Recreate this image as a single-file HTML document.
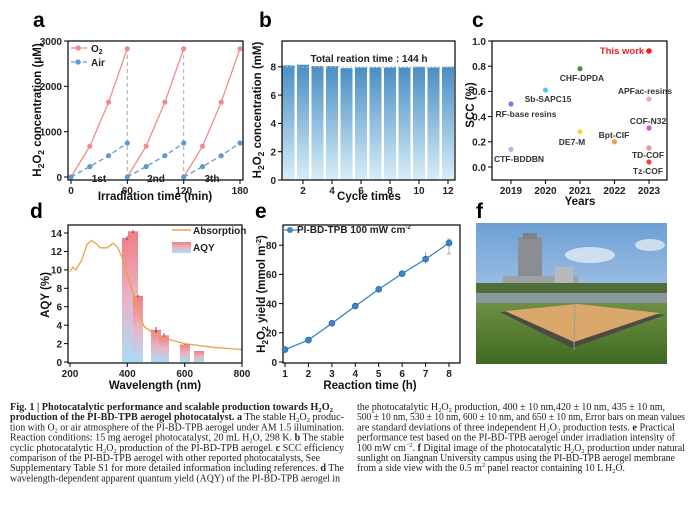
<!DOCTYPE html>
<html><head><meta charset="utf-8"><style>
html,body{margin:0;padding:0;background:#fff}
svg{display:block}
.t{font-family:"Liberation Sans",sans-serif;font-weight:bold;font-size:10px;fill:#222}
.ax{font-family:"Liberation Sans",sans-serif;font-weight:bold;font-size:11.5px;fill:#111}
.L{font-family:"Liberation Sans",sans-serif;font-weight:bold;font-size:21px;fill:#000}
.c{font-family:"Liberation Serif",serif;font-size:10px;fill:#222}
.cl{font-family:"Liberation Sans",sans-serif;font-weight:bold;font-size:8.5px;fill:#333}
</style></head><body>
<svg width="692" height="510" viewBox="0 0 692 510" xmlns="http://www.w3.org/2000/svg">
<defs>
<linearGradient id="gb" x1="0" y1="0" x2="0" y2="1"><stop offset="0" stop-color="#4a8ec4"/><stop offset="1" stop-color="#d8eef9"/></linearGradient>
<linearGradient id="gd" x1="0" y1="0" x2="0" y2="1"><stop offset="0" stop-color="#f07e84"/><stop offset="0.5" stop-color="#e9b4c4"/><stop offset="1" stop-color="#a9dcf6"/></linearGradient>
<linearGradient id="sky" x1="0" y1="0" x2="0" y2="1"><stop offset="0" stop-color="#6d9fd6"/><stop offset="1" stop-color="#d4e3ee"/></linearGradient>
<linearGradient id="grass" x1="0" y1="0" x2="0" y2="1"><stop offset="0" stop-color="#6e8f44"/><stop offset="1" stop-color="#3f6a22"/></linearGradient>
</defs>
<text class="L" x="33" y="27">a</text><text class="L" x="259" y="27">b</text><text class="L" x="472" y="27">c</text>
<text class="L" x="30" y="218">d</text><text class="L" x="255" y="218">e</text><text class="L" x="476" y="218">f</text>

<!-- Panel a -->
<rect x="68" y="41" width="175" height="139" fill="none" stroke="#000" stroke-width="1.2"/>
<g stroke="#000" stroke-width="1">
<line x1="68" y1="177" x2="64" y2="177"/><line x1="68" y1="131.7" x2="64" y2="131.7"/><line x1="68" y1="86.3" x2="64" y2="86.3"/><line x1="68" y1="41" x2="64" y2="41"/>
<line x1="71" y1="180" x2="71" y2="184"/><line x1="127.3" y1="180" x2="127.3" y2="184"/><line x1="183.7" y1="180" x2="183.7" y2="184"/><line x1="240" y1="180" x2="240" y2="184"/>
</g>
<g class="t" text-anchor="end"><text x="62" y="181">0</text><text x="62" y="135.5">1000</text><text x="62" y="90">2000</text><text x="62" y="45">3000</text></g>
<g class="t" text-anchor="middle"><text x="71" y="194">0</text><text x="127.3" y="194">60</text><text x="183.7" y="194">120</text><text x="240" y="194">180</text></g>
<g stroke="#aaa" stroke-dasharray="4,3"><line x1="127.3" y1="48" x2="127.3" y2="177"/><line x1="183.7" y1="48" x2="183.7" y2="177"/></g>
<g fill="none" stroke="#f08c8c" stroke-width="1.3">
<path d="M71,177 L89.8,146.2 L108.6,102.2 L127.3,48.7"/><path d="M127.3,177 L146.1,146.2 L164.9,102.2 L183.7,48.7"/><path d="M183.7,177 L202.5,146.2 L221.2,102.2 L240,48.7"/>
</g>
<g fill="none" stroke="#5b9bd5" stroke-width="1.3" stroke-dasharray="5,3">
<path d="M71,177 L89.8,166.6 L108.6,155.7 L127.3,143"/><path d="M127.3,177 L146.1,166.6 L164.9,155.7 L183.7,143"/><path d="M183.7,177 L202.5,166.6 L221.2,155.7 L240,143"/>
</g>
<g fill="#f08c8c"><circle cx="89.8" cy="146.2" r="2.6"/><circle cx="108.6" cy="102.2" r="2.6"/><circle cx="127.3" cy="48.7" r="2.6"/><circle cx="146.1" cy="146.2" r="2.6"/><circle cx="164.9" cy="102.2" r="2.6"/><circle cx="183.7" cy="48.7" r="2.6"/><circle cx="202.5" cy="146.2" r="2.6"/><circle cx="221.2" cy="102.2" r="2.6"/><circle cx="240" cy="48.7" r="2.6"/></g>
<g fill="#5b9bd5"><circle cx="71" cy="177" r="2.6"/><circle cx="89.8" cy="166.6" r="2.6"/><circle cx="108.6" cy="155.7" r="2.6"/><circle cx="127.3" cy="143" r="2.6"/><circle cx="127.3" cy="177" r="2.6"/><circle cx="146.1" cy="166.6" r="2.6"/><circle cx="164.9" cy="155.7" r="2.6"/><circle cx="183.7" cy="143" r="2.6"/><circle cx="183.7" cy="177" r="2.6"/><circle cx="202.5" cy="166.6" r="2.6"/><circle cx="221.2" cy="155.7" r="2.6"/><circle cx="240" cy="143" r="2.6"/></g>
<line x1="71" y1="48" x2="87" y2="48" stroke="#f08c8c" stroke-width="1.3"/><circle cx="78" cy="48" r="2.6" fill="#f08c8c"/>
<line x1="71" y1="62" x2="87" y2="62" stroke="#5b9bd5" stroke-width="1.3" stroke-dasharray="4,2"/><circle cx="78" cy="62" r="2.6" fill="#5b9bd5"/>
<text class="t" x="91" y="52">O<tspan font-size="7" dy="2">2</tspan></text><text class="t" x="91" y="66">Air</text>
<g class="t" font-weight="normal" text-anchor="middle"><text x="99" y="182">1st</text><text x="156" y="182">2nd</text><text x="212" y="182">3th</text></g>
<text class="ax" transform="translate(41,110) rotate(-90)" text-anchor="middle">H<tspan font-size="8.5" dy="3">2</tspan><tspan dy="-3">O</tspan><tspan font-size="8.5" dy="3">2</tspan><tspan dy="-3"> concentration (μM)</tspan></text>
<text class="ax" x="155" y="200" text-anchor="middle">Irradiation time (min)</text>

<!-- Panel b -->
<g fill="url(#gb)">
<rect x="282.5" y="65.4" width="12" height="114.6"/><rect x="297" y="64.7" width="12" height="115.3"/><rect x="311.5" y="66.1" width="12" height="113.9"/><rect x="326" y="66.1" width="12" height="113.9"/><rect x="340.5" y="68.2" width="12" height="111.8"/><rect x="355" y="67.5" width="12" height="112.5"/><rect x="369.5" y="67.5" width="12" height="112.5"/><rect x="384" y="67.5" width="12" height="112.5"/><rect x="398.5" y="67.5" width="12" height="112.5"/><rect x="413" y="66.8" width="12" height="113.2"/><rect x="427.5" y="67.5" width="12" height="112.5"/><rect x="442" y="66.8" width="12" height="113.2"/>
</g>
<line x1="282" y1="67" x2="455" y2="67" stroke="#bbb" stroke-dasharray="2,2"/>
<rect x="282" y="41" width="173" height="139" fill="none" stroke="#000" stroke-width="1.2"/>
<g stroke="#000"><line x1="282" y1="180" x2="278" y2="180"/><line x1="282" y1="151.7" x2="278" y2="151.7"/><line x1="282" y1="123.4" x2="278" y2="123.4"/><line x1="282" y1="95.1" x2="278" y2="95.1"/><line x1="282" y1="66.8" x2="278" y2="66.8"/>
<line x1="303" y1="180" x2="303" y2="184"/><line x1="332" y1="180" x2="332" y2="184"/><line x1="361" y1="180" x2="361" y2="184"/><line x1="390" y1="180" x2="390" y2="184"/><line x1="419" y1="180" x2="419" y2="184"/><line x1="448" y1="180" x2="448" y2="184"/></g>
<g class="t" text-anchor="end"><text x="276" y="184">0</text><text x="276" y="155.5">2</text><text x="276" y="127">4</text><text x="276" y="99">6</text><text x="276" y="70.5">8</text></g>
<g class="t" text-anchor="middle"><text x="303" y="194">2</text><text x="332" y="194">4</text><text x="361" y="194">6</text><text x="390" y="194">8</text><text x="419" y="194">10</text><text x="448" y="194">12</text></g>
<text class="t" x="369" y="62" text-anchor="middle" font-size="9.5">Total reation time : 144 h</text>
<text class="ax" transform="translate(261,110) rotate(-90)" text-anchor="middle">H<tspan font-size="8.5" dy="3">2</tspan><tspan dy="-3">O</tspan><tspan font-size="8.5" dy="3">2</tspan><tspan dy="-3"> concentration (mM)</tspan></text>
<text class="ax" x="369" y="200" text-anchor="middle">Cycle times</text>

<!-- Panel c -->
<rect x="492" y="41" width="175" height="139" fill="none" stroke="#000" stroke-width="1.2"/>
<g stroke="#000"><line x1="492" y1="167" x2="488" y2="167"/><line x1="492" y1="141.8" x2="488" y2="141.8"/><line x1="492" y1="116.6" x2="488" y2="116.6"/><line x1="492" y1="91.4" x2="488" y2="91.4"/><line x1="492" y1="66.2" x2="488" y2="66.2"/><line x1="492" y1="41" x2="488" y2="41"/>
<line x1="511" y1="180" x2="511" y2="184"/><line x1="545.5" y1="180" x2="545.5" y2="184"/><line x1="580" y1="180" x2="580" y2="184"/><line x1="614.5" y1="180" x2="614.5" y2="184"/><line x1="649" y1="180" x2="649" y2="184"/></g>
<g class="t" text-anchor="end"><text x="486" y="171">0.0</text><text x="486" y="145.5">0.2</text><text x="486" y="120.5">0.4</text><text x="486" y="95">0.6</text><text x="486" y="70">0.8</text><text x="486" y="45">1.0</text></g>
<g class="t" text-anchor="middle"><text x="511" y="194">2019</text><text x="545.5" y="194">2020</text><text x="580" y="194">2021</text><text x="614.5" y="194">2022</text><text x="649" y="194">2023</text></g>
<circle cx="649" cy="51" r="2.8" fill="#f02020"/><circle cx="580" cy="68.7" r="2.6" fill="#3a9a30"/><circle cx="545.5" cy="90.1" r="2.6" fill="#5cc8ee"/><circle cx="511" cy="104" r="2.6" fill="#7c7ce6"/><circle cx="649" cy="99" r="2.6" fill="#f2a0d0"/><circle cx="649" cy="128" r="2.6" fill="#e850c8"/><circle cx="580" cy="131.7" r="2.6" fill="#f0d840"/><circle cx="614.5" cy="141.8" r="2.6" fill="#f0a040"/><circle cx="511" cy="149.4" r="2.6" fill="#b0b8ee"/><circle cx="649" cy="148" r="2.6" fill="#f09090"/><circle cx="649" cy="162" r="2.6" fill="#f04050"/>
<g class="cl" text-anchor="middle">
<text x="622" y="54" font-size="9.5" style="fill:#f02020">This work</text>
<text x="582" y="81">CHF-DPDA</text><text x="548" y="102">Sb-SAPC15</text><text x="526" y="117">RF-base resins</text>
<text x="645" y="94">APFac-resins</text><text x="648" y="124">COF-N32</text><text x="614" y="138">Bpt-CIF</text><text x="572" y="145">DE7-M</text>
<text x="648" y="158">TD-COF</text><text x="648" y="174">Tz-COF</text><text x="519" y="162">CTF-BDDBN</text></g>
<text class="ax" transform="translate(474,105) rotate(-90)" text-anchor="middle">SCC (%)</text>
<text class="ax" x="580" y="205" text-anchor="middle">Years</text>

<!-- Panel d -->
<g fill="url(#gd)">
<rect x="122" y="237.8" width="10" height="124.2"/><rect x="128" y="231.3" width="10" height="130.7"/><rect x="133" y="295.8" width="10" height="66.2"/><rect x="151" y="329.8" width="10" height="32.2"/><rect x="159" y="335.3" width="10" height="26.7"/><rect x="180" y="344.5" width="10" height="17.5"/><rect x="194" y="351" width="10" height="11"/>
</g>
<g stroke="#333" stroke-width="0.8"><line x1="127" y1="236" x2="127" y2="240"/><line x1="133" y1="230" x2="133" y2="233"/><line x1="138" y1="295" x2="138" y2="297"/><line x1="156" y1="327" x2="156" y2="333"/><line x1="164" y1="333" x2="164" y2="338"/><line x1="185" y1="344" x2="185" y2="345"/></g>
<path fill="none" stroke="#e8a24a" stroke-width="1.3" d="M70,271.7 L72.9,267.1 L75.7,269.9 L81.5,260.7 L87.2,244.1 L91.5,240.4 L95.8,243.2 L100.1,247.8 L107.3,247.8 L113,243.2 L117.3,247 L121.6,256.1 L127.3,274.5 L133,292.9 L138.8,314.1 L144.5,327 L156,334.4 L170.3,339.9 L184.7,343.6 L213.3,347.3 L242,349.6"/>
<rect x="68" y="225" width="174" height="138" fill="none" stroke="#000" stroke-width="1.2"/>
<g stroke="#000"><line x1="68" y1="362" x2="64" y2="362"/><line x1="68" y1="343.6" x2="64" y2="343.6"/><line x1="68" y1="325.2" x2="64" y2="325.2"/><line x1="68" y1="306.7" x2="64" y2="306.7"/><line x1="68" y1="288.3" x2="64" y2="288.3"/><line x1="68" y1="269.9" x2="64" y2="269.9"/><line x1="68" y1="251.5" x2="64" y2="251.5"/><line x1="68" y1="233" x2="64" y2="233"/>
<line x1="70" y1="363" x2="70" y2="367"/><line x1="127.3" y1="363" x2="127.3" y2="367"/><line x1="184.7" y1="363" x2="184.7" y2="367"/><line x1="242" y1="363" x2="242" y2="367"/></g>
<g class="t" text-anchor="end"><text x="62" y="366">0</text><text x="62" y="347.5">2</text><text x="62" y="329">4</text><text x="62" y="310.5">6</text><text x="62" y="292">8</text><text x="62" y="273.5">10</text><text x="62" y="255">12</text><text x="62" y="237">14</text></g>
<g class="t" text-anchor="middle"><text x="70" y="377">200</text><text x="127.3" y="377">400</text><text x="184.7" y="377">600</text><text x="242" y="377">800</text></g>
<line x1="172" y1="230" x2="191" y2="230" stroke="#e8a24a" stroke-width="1.5"/><text class="t" x="193" y="234">Absorption</text>
<rect x="172" y="242" width="19" height="11" fill="url(#gd)"/><text class="t" x="193" y="251">AQY</text>
<text class="ax" transform="translate(49,295) rotate(-90)" text-anchor="middle">AQY (%)</text>
<text class="ax" x="155" y="389" text-anchor="middle">Wavelength (nm)</text>

<!-- Panel e -->
<rect x="283" y="225" width="177" height="138" fill="none" stroke="#000" stroke-width="1.2"/>
<g stroke="#000"><line x1="283" y1="362" x2="279" y2="362"/><line x1="283" y1="332.8" x2="279" y2="332.8"/><line x1="283" y1="303.6" x2="279" y2="303.6"/><line x1="283" y1="274.4" x2="279" y2="274.4"/><line x1="283" y1="245.2" x2="279" y2="245.2"/>
<line x1="285" y1="363" x2="285" y2="367"/><line x1="308.4" y1="363" x2="308.4" y2="367"/><line x1="331.9" y1="363" x2="331.9" y2="367"/><line x1="355.3" y1="363" x2="355.3" y2="367"/><line x1="378.7" y1="363" x2="378.7" y2="367"/><line x1="402.1" y1="363" x2="402.1" y2="367"/><line x1="425.6" y1="363" x2="425.6" y2="367"/><line x1="449" y1="363" x2="449" y2="367"/></g>
<g class="t" text-anchor="end"><text x="277" y="366">0</text><text x="277" y="336.5">20</text><text x="277" y="307.5">40</text><text x="277" y="278">60</text><text x="277" y="249">80</text></g>
<g class="t" text-anchor="middle"><text x="285" y="377">1</text><text x="308.4" y="377">2</text><text x="331.9" y="377">3</text><text x="355.3" y="377">4</text><text x="378.7" y="377">5</text><text x="402.1" y="377">6</text><text x="425.6" y="377">7</text><text x="449" y="377">8</text></g>
<g stroke="#999" stroke-width="0.8"><line x1="425.6" y1="252" x2="425.6" y2="264"/><line x1="449" y1="239" x2="449" y2="254"/><line x1="447" y1="239" x2="451" y2="239"/><line x1="447" y1="254" x2="451" y2="254"/></g>
<path fill="none" stroke="#3a86c8" stroke-width="1.3" d="M285,349.6 L308.4,340.1 L331.9,323.3 L355.3,306.1 L378.7,289.3 L402.1,273.7 L425.6,259.1 L449,243"/>
<g fill="#3a86c8" stroke="#1f5f99" stroke-width="0.6"><circle cx="285" cy="349.6" r="3"/><circle cx="308.4" cy="340.1" r="3"/><circle cx="331.9" cy="323.3" r="3"/><circle cx="355.3" cy="306.1" r="3"/><circle cx="378.7" cy="289.3" r="3"/><circle cx="402.1" cy="273.7" r="3"/><circle cx="425.6" cy="259.1" r="3"/><circle cx="449" cy="243" r="3"/></g>
<line x1="283" y1="230" x2="300" y2="230" stroke="#3a86c8" stroke-width="1.3"/><circle cx="290" cy="230" r="3" fill="#3a86c8"/>
<text class="t" x="297" y="233" font-size="9">PI-BD-TPB  100 mW cm<tspan font-size="6" dy="-4">-2</tspan></text>
<text class="ax" transform="translate(265,294) rotate(-90)" text-anchor="middle">H<tspan font-size="8.5" dy="3">2</tspan><tspan dy="-3">O</tspan><tspan font-size="8.5" dy="3">2</tspan><tspan dy="-3">  yield (mmol m</tspan><tspan font-size="7.5" dy="-4">-2</tspan><tspan dy="4">)</tspan></text>
<text class="ax" x="370" y="389" text-anchor="middle">Reaction time (h)</text>

<!-- Panel f photo -->
<rect x="476" y="223" width="191" height="141" fill="url(#sky)"/>
<ellipse cx="590" cy="255" rx="25" ry="8" fill="#eef3f7" opacity="0.7"/><ellipse cx="650" cy="245" rx="15" ry="6" fill="#eef3f7" opacity="0.7"/>
<rect x="518" y="237" width="24" height="50" fill="#8a8e92"/><rect x="523" y="233" width="14" height="6" fill="#7e8286"/>
<rect x="503" y="276" width="75" height="14" fill="#9ea3a6"/><rect x="555" y="267" width="18" height="20" fill="#b6babd"/>
<rect x="476" y="283" width="191" height="10" fill="#4f6e3a"/>
<rect x="476" y="293" width="191" height="10" fill="#8c9aa0"/>
<rect x="476" y="303" width="191" height="61" fill="url(#grass)"/>
<polygon points="500,312 578,305 665,315 572,348" fill="#4c4a42"/>
<polygon points="505,311 578,304 660,313 574,342" fill="#d9a86a"/>
<line x1="575" y1="304" x2="574" y2="350" stroke="#a0a090"/>

<!-- Caption -->
<g class="c">
<text x="10" y="410" textLength="323" lengthAdjust="spacingAndGlyphs" font-weight="bold">Fig. 1 | Photocatalytic performance and scalable production towards H<tspan font-size="6.5" dy="2">2</tspan><tspan dy="-2">O</tspan><tspan font-size="6.5" dy="2">2</tspan></text>
<text x="10" y="420.2" textLength="334" lengthAdjust="spacingAndGlyphs"><tspan font-weight="bold">production of the PI-BD-TPB aerogel photocatalyst. a</tspan> The stable H<tspan font-size="6.5" dy="2">2</tspan><tspan dy="-2">O</tspan><tspan font-size="6.5" dy="2">2</tspan><tspan dy="-2"> produc-</tspan></text>
<text x="10" y="430.4" textLength="334" lengthAdjust="spacingAndGlyphs">tion with O<tspan font-size="6.5" dy="2">2</tspan><tspan dy="-2"> or air atmosphere of the PI-BD-TPB aerogel under AM 1.5 illumination.</tspan></text>
<text x="10" y="440.6" textLength="334" lengthAdjust="spacingAndGlyphs">Reaction conditions: 15 mg aerogel photocatalyst, 20 mL H<tspan font-size="6.5" dy="2">2</tspan><tspan dy="-2">O, 298 K. </tspan><tspan font-weight="bold">b</tspan> The stable</text>
<text x="10" y="450.8" textLength="334" lengthAdjust="spacingAndGlyphs">cyclic photocatalytic H<tspan font-size="6.5" dy="2">2</tspan><tspan dy="-2">O</tspan><tspan font-size="6.5" dy="2">2</tspan><tspan dy="-2"> production of the PI-BD-TPB aerogel. </tspan><tspan font-weight="bold">c</tspan> SCC efficiency</text>
<text x="10" y="461" textLength="310" lengthAdjust="spacingAndGlyphs">comparison of the PI-BD-TPB aerogel with other reported photocatalysts, See</text>
<text x="10" y="471.2" textLength="334" lengthAdjust="spacingAndGlyphs">Supplementary Table S1 for more detailed information including references. <tspan font-weight="bold">d</tspan> The</text>
<text x="10" y="481.4" textLength="330" lengthAdjust="spacingAndGlyphs">wavelength-dependent apparent quantum yield (AQY) of the PI-BD-TPB aerogel in</text>
<text x="357" y="410" textLength="308" lengthAdjust="spacingAndGlyphs">the photocatalytic H<tspan font-size="6.5" dy="2">2</tspan><tspan dy="-2">O</tspan><tspan font-size="6.5" dy="2">2</tspan><tspan dy="-2"> production, 400 ± 10 nm,420 ± 10 nm, 435 ± 10 nm,</tspan></text>
<text x="357" y="420.2" textLength="328" lengthAdjust="spacingAndGlyphs">500 ± 10 nm, 530 ± 10 nm, 600 ± 10 nm, and 650 ± 10 nm, Error bars on mean values</text>
<text x="357" y="430.4" textLength="318" lengthAdjust="spacingAndGlyphs">are standard deviations of three independent H<tspan font-size="6.5" dy="2">2</tspan><tspan dy="-2">O</tspan><tspan font-size="6.5" dy="2">2</tspan><tspan dy="-2"> production tests. </tspan><tspan font-weight="bold">e</tspan> Practical</text>
<text x="357" y="440.6" textLength="318" lengthAdjust="spacingAndGlyphs">performance test based on the PI-BD-TPB aerogel under irradiation intensity of</text>
<text x="357" y="450.8" textLength="328" lengthAdjust="spacingAndGlyphs">100 mW cm<tspan font-size="6.5" dy="-4">−2</tspan><tspan dy="4">. </tspan><tspan font-weight="bold">f</tspan> Digital image of the photocatalytic H<tspan font-size="6.5" dy="2">2</tspan><tspan dy="-2">O</tspan><tspan font-size="6.5" dy="2">2</tspan><tspan dy="-2"> production under natural</tspan></text>
<text x="357" y="461" textLength="318" lengthAdjust="spacingAndGlyphs">sunlight on Jiangnan University campus using the PI-BD-TPB aerogel membrane</text>
<text x="357" y="471.2" textLength="268" lengthAdjust="spacingAndGlyphs">from a side view with the 0.5 m<tspan font-size="6.5" dy="-4">2</tspan><tspan dy="4"> panel reactor containing 10 L H</tspan><tspan font-size="6.5" dy="2">2</tspan><tspan dy="-2">O.</tspan></text>
</g>
</svg>
</body></html>
